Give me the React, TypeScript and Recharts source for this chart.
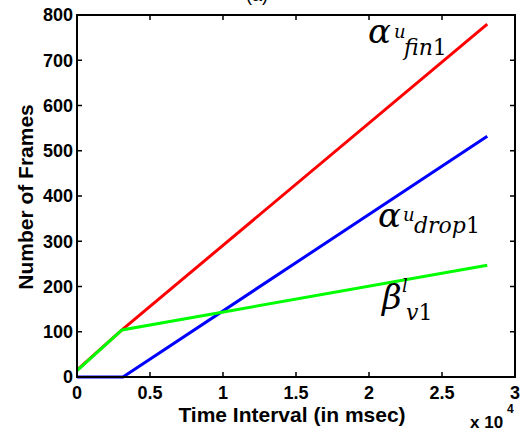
import { LineChart, Line, XAxis, YAxis, ReferenceDot } from "recharts";

// Frame counts against elapsed time (ms), one array pair per curve
const finTime = [0, 3080, 28100];
const finFrames = [15, 104, 780];

const dropTime = [0, 3150, 28100];
const dropFrames = [0, 0, 532];

const v1Time = [0, 3080, 28100];
const v1Frames = [14, 104, 247];

const timeTicks = [0, 5000, 10000, 15000, 20000, 25000, 30000];
const frameTicks = [0, 100, 200, 300, 400, 500, 600, 700, 800];

const toPoints = (time: number[], frames: number[]) =>
  time.map((t, i) => ({ time: t, frames: frames[i] }));

const SANS = "Liberation Sans, Arial, sans-serif";
const SERIF = "DejaVu Serif, serif";

// chart box and the plot rectangle that follows from margins and axis sizes
const W = 528;
const H = 432;
const MARGIN = { top: 14, right: 13, bottom: 25, left: 0 };
const Y_AXIS_W = 77;
const X_AXIS_H = 30;
const TOP_AXIS_H = 1;
const PLOT_W = W - MARGIN.left - MARGIN.right - Y_AXIS_W;
const PLOT_H = H - MARGIN.top - MARGIN.bottom - X_AXIS_H - TOP_AXIS_H;
const TICK_LEN = 5;
const INK = "#000";

const tickStyle = { fontFamily: SANS, fontSize: 18, fontWeight: 700, fill: "#000" };

// inward marks on bottom and top edges, anchored at (t, 0)
const TimeMark = ({ cx, cy }: any) => {
  if (cx == null || cy == null) return <g />;
  const top = cy - PLOT_H;
  return (
    <path
      d={`M${cx},${cy}V${cy - TICK_LEN}M${cx},${top}V${top + TICK_LEN}`}
      stroke={INK}
      strokeWidth={1.5}
      fill="none"
    />
  );
};

// inward marks on left and right edges, anchored at (0, f)
const FrameMark = ({ cx, cy }: any) => {
  if (cx == null || cy == null) return <g />;
  const right = cx + PLOT_W;
  return (
    <path
      d={`M${cx},${cy}H${cx + TICK_LEN}M${right},${cy}H${right - TICK_LEN}`}
      stroke={INK}
      strokeWidth={1.5}
      fill="none"
    />
  );
};

// plot box, anchored at the lower-left corner (0, 0)
const PlotBox = ({ cx, cy }: any) => {
  if (cx == null || cy == null) return <g />;
  return (
    <path
      d={`M${cx},${cy}V${cy - PLOT_H}H${cx + PLOT_W}V${cy}Z`}
      stroke={INK}
      strokeWidth={2}
      fill="none"
    />
  );
};

// Greek symbol with a superscript and a subscript, LaTeX style
const mathLabel = (
  base: string,
  sup: string,
  sub: string,
  supAt: [number, number],
  subAt: [number, number]
) =>
  function MathLabel({ cx, cy }: { cx?: number; cy?: number }) {
    if (cx == null || cy == null) return <g />;
    const digit = sub.slice(-1);
    const letters = sub.slice(0, -1);
    return (
      <text x={cx} y={cy} fontFamily={SERIF} fontStyle="italic" fill="#000">
        <tspan fontSize={34}>{base}</tspan>
        <tspan x={cx + supAt[0]} y={cy + supAt[1]} fontSize={18}>
          {sup}
        </tspan>
        <tspan x={cx + subAt[0]} y={cy + subAt[1]} fontSize={22}>
          {letters}
        </tspan>
        <tspan fontSize={22} fontStyle="normal">
          {digit}
        </tspan>
      </text>
    );
  };

const XLabel = ({ viewBox }: any) => {
  const { x, y, width } = viewBox;
  return (
    <g fontFamily={SANS} fontWeight={700} fill="#000">
      <text x={x + width / 2 - 4} y={y + 45} fontSize={21} textAnchor="middle">
        Time Interval (in msec)
      </text>
      <text x={x + width - 45} y={y + 51} fontSize={17}>
        x 10
      </text>
      <text x={x + width - 8} y={y + 36} fontSize={12}>
        4
      </text>
    </g>
  );
};

const YLabel = ({ viewBox }: any) => {
  const { x, y, height } = viewBox;
  const cx = x + 33;
  const cy = y + height / 2 + 1;
  return (
    <text
      x={cx}
      y={cy}
      transform={`rotate(-90, ${cx}, ${cy})`}
      textAnchor="middle"
      fontFamily={SANS}
      fontWeight={700}
      fontSize={21}
      fill="#000"
    >
      Number of Frames
    </text>
  );
};

const TitleLabel = ({ viewBox }: any) => {
  const { x } = viewBox;
  return (
    <text x={x + 180} y={1} textAnchor="middle" fontFamily={SANS} fontSize={18} fill="#000">
      (a)
    </text>
  );
};

export default function App() {
  return (
    <div style={{ position: "absolute", left: 0, top: 0, background: "#fff" }}>
      <LineChart width={W} height={H} margin={MARGIN}>
        <XAxis
          xAxisId="bottom"
          dataKey="time"
          type="number"
          domain={[0, 30000]}
          ticks={timeTicks}
          tickFormatter={(v: number) => String(v / 10000)}
          height={X_AXIS_H}
          tickSize={0}
          tickMargin={9}
          tick={tickStyle}
          axisLine={false}
          tickLine={false}
          label={<XLabel />}
        />
        <XAxis
          xAxisId="top"
          orientation="top"
          type="number"
          domain={[0, 30000]}
          ticks={timeTicks}
          height={TOP_AXIS_H}
          tick={false}
          axisLine={false}
          tickLine={false}
          label={<TitleLabel />}
        />
        <YAxis
          yAxisId="left"
          type="number"
          domain={[0, 800]}
          ticks={frameTicks}
          width={Y_AXIS_W}
          tickSize={0}
          tickMargin={4}
          tick={tickStyle}
          axisLine={false}
          tickLine={false}
          label={<YLabel />}
        />

        <Line
          xAxisId="bottom"
          yAxisId="left"
          data={toPoints(finTime, finFrames)}
          dataKey="frames"
          stroke="#ff0000"
          strokeWidth={3}
          dot={false}
          isAnimationActive={false}
        />
        <Line
          xAxisId="bottom"
          yAxisId="left"
          data={toPoints(dropTime, dropFrames)}
          dataKey="frames"
          stroke="#0000ff"
          strokeWidth={3}
          dot={false}
          isAnimationActive={false}
        />
        <Line
          xAxisId="bottom"
          yAxisId="left"
          data={toPoints(v1Time, v1Frames)}
          dataKey="frames"
          stroke="#00ff00"
          strokeWidth={3}
          dot={false}
          isAnimationActive={false}
        />

        {/* box and inward tick marks */}
        <ReferenceDot xAxisId="bottom" yAxisId="left" x={0} y={0} shape={<PlotBox />} />
        {timeTicks.map((t) => (
          <ReferenceDot key={`tm-${t}`} xAxisId="bottom" yAxisId="left" x={t} y={0} shape={<TimeMark />} />
        ))}
        {frameTicks.map((f) => (
          <ReferenceDot key={`fm-${f}`} xAxisId="bottom" yAxisId="left" x={0} y={f} shape={<FrameMark />} />
        ))}

        <ReferenceDot
          xAxisId="bottom"
          yAxisId="left"
          x={19932}
          y={738}
          shape={mathLabel("α", "u", "fin1", [26, -5], [36, 12])}
        />
        <ReferenceDot
          xAxisId="bottom"
          yAxisId="left"
          x={20616}
          y={331}
          shape={mathLabel("α", "u", "drop1", [25, -6], [36, 6])}
        />
        <ReferenceDot
          xAxisId="bottom"
          yAxisId="left"
          x={20890}
          y={150}
          shape={mathLabel("β", "l", "v1", [20, -17], [24, 11])}
        />
      </LineChart>
    </div>
  );
}
